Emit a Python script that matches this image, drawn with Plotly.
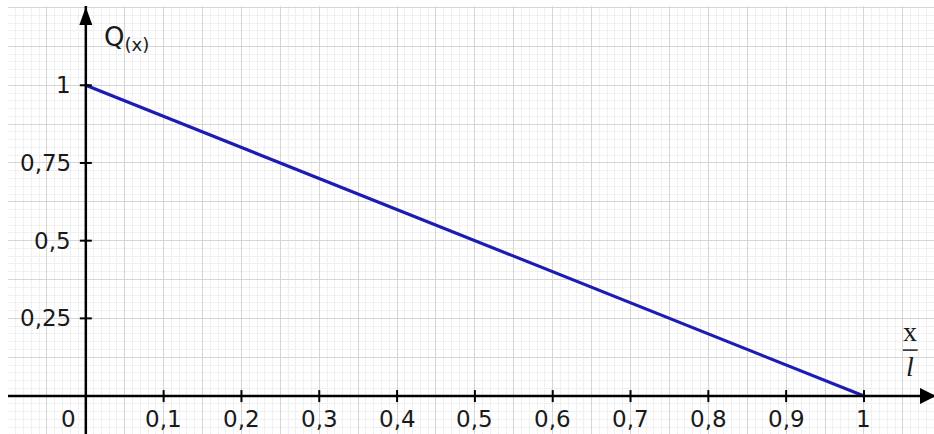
import plotly.graph_objects as go

# Q(x) as a function of the relative position x/l
x_rel = [0.0, 1.0]
q_vals = [1.0, 0.0]

# axis ticks and their labels (decimal comma)
x_ticks = [0.1, 0.2, 0.3, 0.4, 0.5, 0.6, 0.7, 0.8, 0.9, 1.0]
x_tick_labels = ["0,1", "0,2", "0,3", "0,4", "0,5", "0,6", "0,7", "0,8", "0,9", "1"]
y_ticks = [0.25, 0.5, 0.75, 1.0]
y_tick_labels = ["0,25", "0,5", "0,75", "1"]

X_RANGE = [-0.1, 1.09]
Y_RANGE = [-0.122, 1.255]

LABEL_FONT = dict(family="DejaVu Sans", size=23, color="#1a1a1a")
SERIF_FONT = dict(family="Liberation Serif", size=28, color="#1a1a1a")
AXIS_COLOR = "#000000"

fig = go.Figure()
fig.add_trace(go.Scatter(
    x=x_rel, y=q_vals, mode="lines",
    line=dict(color="#1c1cb4", width=3.2),
    hoverinfo="skip", showlegend=False,
))

shapes = []
# coordinate axes
shapes.append(dict(type="line", xref="x", yref="y", x0=X_RANGE[0], x1=X_RANGE[1], y0=0, y1=0,
                   line=dict(color=AXIS_COLOR, width=2.5)))
shapes.append(dict(type="line", xref="x", yref="y", x0=0, x1=0, y0=Y_RANGE[0], y1=Y_RANGE[1],
                   line=dict(color=AXIS_COLOR, width=2.5)))
# arrow heads
shapes.append(dict(type="path", xref="x", yref="y", xsizemode="pixel", ysizemode="pixel",
                   xanchor=X_RANGE[1], yanchor=0, path="M 2 0 L -14 8 L -14 -8 Z",
                   fillcolor=AXIS_COLOR, line=dict(width=0)))
shapes.append(dict(type="path", xref="x", yref="y", xsizemode="pixel", ysizemode="pixel",
                   xanchor=0, yanchor=Y_RANGE[1], path="M 0 -1 L -6.5 -19 L 6.5 -19 Z",
                   fillcolor=AXIS_COLOR, line=dict(width=0)))
# tick marks
for t in x_ticks:
    shapes.append(dict(type="line", xref="x", yref="y", ysizemode="pixel", yanchor=0,
                       x0=t, x1=t, y0=-6, y1=6, line=dict(color=AXIS_COLOR, width=2)))
for t in y_ticks:
    shapes.append(dict(type="line", xref="x", yref="y", xsizemode="pixel", xanchor=0,
                       y0=t, y1=t, x0=-6, x1=6, line=dict(color=AXIS_COLOR, width=2)))
# fraction bar of the x/l label
shapes.append(dict(type="line", xref="x", yref="y", x0=1.050, x1=1.069, y0=0.148, y1=0.148,
                   line=dict(color="#1a1a1a", width=1.5)))

annotations = []
for t, lab in zip(x_ticks, x_tick_labels):
    annotations.append(dict(x=t, y=0, xref="x", yref="y", text=lab, showarrow=False,
                            xanchor="center", yanchor="middle", yshift=-23, font=LABEL_FONT))
for t, lab in zip(y_ticks, y_tick_labels):
    annotations.append(dict(x=0, y=t, xref="x", yref="y", text=lab, showarrow=False,
                            xanchor="right", yanchor="middle", xshift=-13, font=LABEL_FONT))
annotations.append(dict(x=0, y=0, xref="x", yref="y", text="0", showarrow=False,
                        xanchor="center", yanchor="middle", xshift=-17, yshift=-23, font=LABEL_FONT))
annotations.append(dict(x=0, y=1.15, xref="x", yref="y", text="Q<sub>(x)</sub>", showarrow=False,
                        xanchor="left", yanchor="middle", xshift=16,
                        font=dict(family="DejaVu Sans", size=26, color="#1a1a1a")))
annotations.append(dict(x=1.0595, y=0.207, xref="x", yref="y", text="x", showarrow=False,
                        xanchor="center", yanchor="middle", font=SERIF_FONT))
annotations.append(dict(x=1.0595, y=0.095, xref="x", yref="y", text="<i>l</i>", showarrow=False,
                        xanchor="center", yanchor="middle", font=SERIF_FONT))

fig.update_layout(
    width=934, height=434,
    margin=dict(l=8, r=0, t=6, b=0),
    paper_bgcolor="white", plot_bgcolor="white",
    shapes=shapes, annotations=annotations,
    xaxis=dict(range=X_RANGE, showticklabels=False, ticks="", zeroline=False, showline=False,
               tick0=0, dtick=0.05, showgrid=True, gridcolor="#d6d6d6", gridwidth=1,
               minor=dict(tick0=0, dtick=0.01, showgrid=True, gridcolor="#f0f0f0", gridwidth=1),
               fixedrange=True),
    yaxis=dict(range=Y_RANGE, showticklabels=False, ticks="", zeroline=False, showline=False,
               tick0=0, dtick=0.125, showgrid=True, gridcolor="#d6d6d6", gridwidth=1,
               minor=dict(tick0=0, dtick=0.025, showgrid=True, gridcolor="#f0f0f0", gridwidth=1),
               fixedrange=True),
    showlegend=False,
)

fig.write_html("out.html", config={"displayModeBar": False})
